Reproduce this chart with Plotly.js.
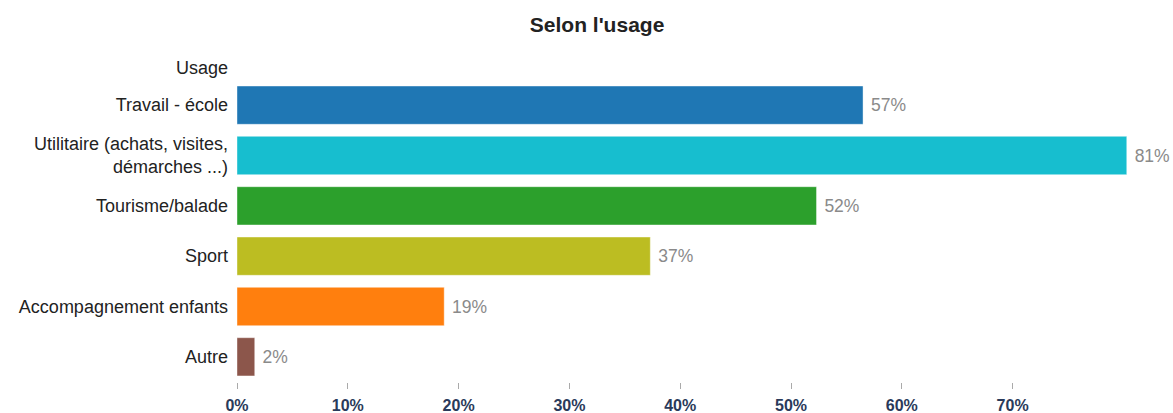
<!DOCTYPE html>
<html>
<head>
<meta charset="utf-8">
<script src="https://cdn.plot.ly/plotly-3.0.1.min.js"></script>
<style>html,body{margin:0;padding:0;background:#fff;}#chart{width:1173px;height:413px;}</style>
</head>
<body>
<div id="chart"></div>
<script>
const categories = ["Travail - école", "Utilitaire (achats, visites,<br>démarches ...)", "Tourisme/balade", "Sport", "Accompagnement enfants", "Autre"];
const values = [0.565, 0.803, 0.523, 0.373, 0.187, 0.016];
const valueLabels = ["57%", "81%", "52%", "37%", "19%", "2%"];
const colors = ["#1f77b4", "#17becf", "#2ca02c", "#bcbd22", "#ff7f0e", "#8c564b"];
const tickVals = [0, 0.1, 0.2, 0.3, 0.4, 0.5, 0.6, 0.7];
const tickText = ["0%", "10%", "20%", "30%", "40%", "50%", "60%", "70%"];

const trace = {
  type: "bar",
  orientation: "h",
  x: values,
  y: categories,
  marker: {color: colors, line: {color: "rgba(255,255,255,0.4)", width: 1}},
  width: 0.76,
  text: valueLabels.map(function (s) { return " " + s; }),
  textposition: "outside",
  constraintext: "none",
  cliponaxis: false,
  textfont: {family: "Liberation Sans, Arial, sans-serif", size: 17.5, color: "#8a8a8a"},
  hoverinfo: "none"
};

const layout = {
  width: 1173,
  height: 413,
  margin: {l: 237, r: 13, t: 80, b: 31},
  paper_bgcolor: "#fff",
  plot_bgcolor: "#fff",
  showlegend: false,
  bargap: 0.24,
  title: {
    text: "<b>Selon l'usage</b>",
    x: 0.509, xanchor: "center",
    y: 0.94, yanchor: "middle",
    font: {family: "Liberation Sans, Arial, sans-serif", size: 21, color: "#222"}
  },
  xaxis: {
    range: [0, 0.833],
    tickvals: tickVals,
    ticktext: tickText,
    ticks: "outside",
    ticklen: 6,
    tickcolor: "#aaa",
    tickwidth: 1,
    showgrid: false,
    zeroline: false,
    showline: false,
    ticklabelstandoff: 3,
    tickfont: {family: "Liberation Sans, Arial, sans-serif", size: 16, color: "#2a3a5a", weight: "bold"},
    fixedrange: true
  },
  yaxis: {
    type: "category",
    autorange: "reversed",
    showgrid: false,
    zeroline: false,
    showline: false,
    ticks: "",
    ticklabelstandoff: 8,
    tickfont: {family: "Liberation Sans, Arial, sans-serif", size: 18, color: "#222"},
    fixedrange: true
  },
  annotations: [{
    text: "Usage",
    xref: "paper", yref: "paper",
    x: 0, y: 1,
    xanchor: "right", yanchor: "middle",
    xshift: -7, yshift: 12,
    showarrow: false,
    font: {family: "Liberation Sans, Arial, sans-serif", size: 18, color: "#222"}
  }]
};

Plotly.newPlot("chart", [trace], layout, {displayModeBar: false, staticPlot: true});
</script>
</body>
</html>
